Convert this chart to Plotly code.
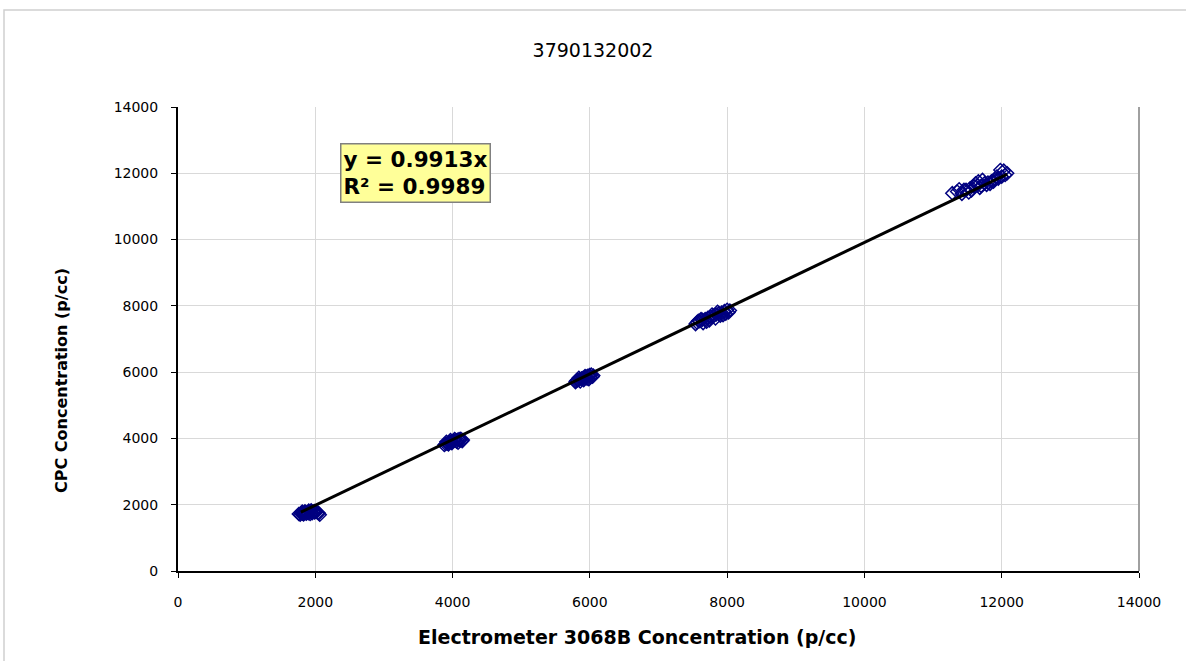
import plotly.graph_objects as go

# Data (Electrometer vs CPC concentration, p/cc)
elec_x = [
    # ~2000 cluster
    1760, 1790, 1815, 1840, 1860, 1880, 1900, 1920, 1945, 1965, 1990, 2015, 2040, 2065, 1830, 1870, 1955, 2000,
    1905, 1780, 1810, 1925, 1985, 2050, 1850, 1940,
    # ~4000 cluster
    3880, 3900, 3925, 3950, 3975, 4000, 4020, 4045, 4070, 4095, 4120, 4150, 3940, 3990, 4060, 4110, 3960, 3910,
    4030, 4080, 4140, 3970,
    # ~6000 cluster
    5790, 5800, 5825, 5850, 5875, 5900, 5920, 5945, 5970, 5995, 6020, 6050, 5860, 5910, 5960, 6010, 5880, 5840,
    5930, 5985, 6040, 5815,
    # ~8000 cluster
    7540, 7560, 7600, 7640, 7680, 7720, 7760, 7800, 7840, 7880, 7920, 7960, 8000, 8040, 7650, 7740, 7830, 7900,
    7980, 7620, 7700, 7780, 7860, 7940, 8020, 7580,
    # ~12000 cluster
    11280, 11350, 11420, 11480, 11540, 11600, 11650, 11700, 11750, 11800, 11850, 11900, 11950, 12000, 12050, 12080,
    11450, 11560, 11680, 11780, 11880, 11980, 11620, 11720, 11380, 11520, 11830, 11930, 12030, 11660,
]
cpc_y = [
    1720, 1740, 1730, 1760, 1750, 1770, 1745, 1780, 1760, 1790, 1770, 1780, 1760, 1700, 1710, 1730, 1745, 1790,
    1820, 1700, 1790, 1720, 1810, 1740, 1800, 1830,
    3800, 3830, 3850, 3870, 3900, 3910, 3930, 3950, 3960, 3980, 3990, 3950, 3820, 3860, 3900, 3940, 3880, 3900,
    3980, 3870, 3920, 3950,
    5700, 5730, 5760, 5780, 5800, 5820, 5840, 5870, 5890, 5910, 5930, 5900, 5720, 5760, 5800, 5850, 5810, 5830,
    5880, 5790, 5860, 5760,
    7450, 7500, 7540, 7580, 7600, 7640, 7680, 7700, 7740, 7780, 7800, 7840, 7880, 7860, 7480, 7560, 7620, 7700,
    7760, 7600, 7520, 7740, 7820, 7720, 7800, 7550,
    11400, 11450, 11380, 11500, 11550, 11600, 11640, 11620, 11700, 11720, 11760, 11800, 11840, 11900, 11950, 12000,
    11500, 11480, 11560, 11650, 11750, 12100, 11700, 11800, 11520, 11420, 11680, 11900, 12080, 11760,
]

slope = 0.9913
r2 = 0.9989
trend_x = [1790, 12080]
trend_y = [slope * v for v in trend_x]

title_text = "3790132002"
x_title = "Electrometer 3068B Concentration (p/cc)"
y_title = "CPC Concentration (p/cc)"
tick_vals = [0, 2000, 4000, 6000, 8000, 10000, 12000, 14000]

FONT = "DejaVu Sans, Liberation Sans, Arial, sans-serif"

W, H = 1186, 661
L, R, T, B = 178, 47, 107, 90
PW, PH = W - L - R, H - T - B


def px_x(p):
    return (p - L) / PW


def px_y(p):
    return (H - B - p) / PH


fig = go.Figure()
fig.add_trace(go.Scatter(
    x=elec_x, y=cpc_y, mode="markers",
    marker=dict(symbol="diamond-open", size=10, color="#000080", line=dict(width=1.5, color="#000080")),
    showlegend=False, hoverinfo="skip",
))
fig.add_trace(go.Scatter(
    x=trend_x, y=trend_y, mode="lines",
    line=dict(color="black", width=3), showlegend=False, hoverinfo="skip",
))

fig.update_layout(
    width=W, height=H,
    margin=dict(l=L, r=R, t=T, b=B),
    paper_bgcolor="white", plot_bgcolor="white",
    font=dict(family=FONT, color="black"),
    title=dict(text=title_text, x=593 / W, xanchor="center", y=1 - 50 / H, yanchor="middle",
               font=dict(size=19, family=FONT, color="black")),
    xaxis=dict(
        range=[0, 14000], tickvals=tick_vals, ticktext=[str(v) for v in tick_vals],
        showgrid=True, gridcolor="#d9d9d9", gridwidth=1,
        showline=True, linecolor="black", linewidth=2,
        ticks="outside", ticklen=5, tickcolor="black", ticklabelstandoff=12,
        tickfont=dict(size=14, family=FONT), zeroline=False,
    ),
    yaxis=dict(
        range=[0, 14000], tickvals=tick_vals, ticktext=[str(v) for v in tick_vals],
        showgrid=True, gridcolor="#d9d9d9", gridwidth=1,
        showline=True, linecolor="black", linewidth=2,
        ticks="outside", ticklen=5, tickcolor="black", ticklabelstandoff=10,
        tickfont=dict(size=14, family=FONT), zeroline=False,
    ),
    shapes=[
        # right plot-area border in gray
        dict(type="line", xref="paper", yref="paper", x0=1, x1=1, y0=0, y1=1,
             line=dict(color="#a0a0a0", width=2)),
        # outer chart frame (partially visible)
        dict(type="rect", xref="paper", yref="paper", x0=px_x(4), x1=px_x(1260), y0=px_y(720), y1=px_y(10),
             line=dict(color="#d0d0d0", width=1.5), layer="below"),
    ],
    annotations=[
        dict(text="<b>y = 0.9913x<br>R² = 0.9989</b>", xref="paper", yref="paper",
             x=px_x(340), y=px_y(143), xanchor="left", yanchor="top",
             showarrow=False, align="left",
             font=dict(size=21.5, family=FONT, color="black"),
             bgcolor="#FFFF99", bordercolor="#808080", borderwidth=1.5, borderpad=2),
        # axis titles (placed as in the reference, slightly off-centre)
        dict(text="<b>" + x_title + "</b>", xref="paper", yref="paper",
             x=px_x(637), y=px_y(637), xanchor="center", yanchor="middle", showarrow=False,
             font=dict(size=19, family=FONT, color="black")),
        dict(text="<b>" + y_title + "</b>", xref="paper", yref="paper", textangle=-90,
             x=px_x(62), y=px_y(381), xanchor="center", yanchor="middle", showarrow=False,
             font=dict(size=16, family=FONT, color="black")),
    ],
)

fig.write_html("out.html", config={"displayModeBar": False},
               post_script="document.body.style.margin='0';")
